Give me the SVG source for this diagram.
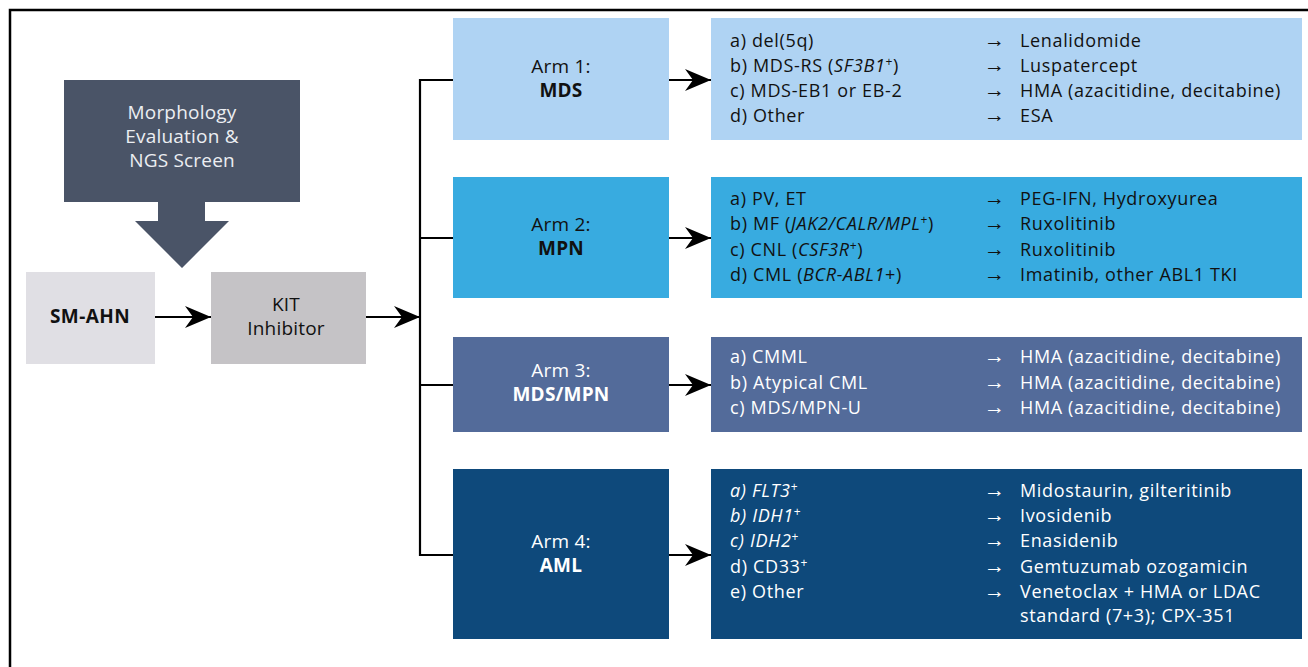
<svg xmlns="http://www.w3.org/2000/svg" width="1308" height="667" viewBox="0 0 1308 667">
<defs>
<marker id="ah" viewBox="0 0 26 22" refX="26" refY="11" markerWidth="26" markerHeight="22" markerUnits="userSpaceOnUse" orient="auto">
<path d="M0,0 L26,11 L0,22 L8,11 Z" fill="#000"/>
</marker>
</defs>
<style>
text{font-family:"Open Sans","Noto Sans","Liberation Sans",sans-serif;font-size:18px;letter-spacing:0.65px;}
.lbl{font-size:19px;letter-spacing:0.2px;}
.dk{fill:#111;}
.lt{fill:#fff;}
.b{font-weight:bold;}
.c{text-anchor:middle;}
.arr{font-family:"Liberation Serif","DejaVu Serif",serif;font-size:21px;letter-spacing:0;}
.it{font-style:italic;}
.sup{font-size:12px;}
.con{stroke:#000;stroke-width:2.2;fill:none;}
</style>
<rect width="1308" height="667" fill="#fff"/>
<path d="M10,667 V10 H1308" fill="none" stroke="#000" stroke-width="2.5"/>

<g id="connectors">
<line class="con" x1="155" y1="317" x2="211" y2="317" marker-end="url(#ah)"/>
<line class="con" x1="366" y1="317" x2="420" y2="317" marker-end="url(#ah)"/>
<path class="con" d="M453,80 H420 V555 H453 M420,238 H453 M420,385 H453"/>
<line class="con" x1="669" y1="80" x2="711" y2="80" marker-end="url(#ah)"/>
<line class="con" x1="669" y1="238" x2="711" y2="238" marker-end="url(#ah)"/>
<line class="con" x1="669" y1="385" x2="711" y2="385" marker-end="url(#ah)"/>
<line class="con" x1="669" y1="555" x2="711" y2="555" marker-end="url(#ah)"/>
</g>

<g id="screen">
<path d="M64,80 H300 V202 H205 V221 H229 L182,268 L135,221 H158 V202 H64 Z" fill="#4a5467"/>
<text class="c lbl" x="182" y="119" fill="#eceef2">Morphology</text>
<text class="c lbl" x="182" y="143" fill="#eceef2">Evaluation &amp;</text>
<text class="c lbl" x="182" y="167" fill="#eceef2">NGS Screen</text>
</g>

<g id="smahn">
<rect x="26" y="272" width="129" height="92" fill="#e0dfe4"/>
<text class="c b dk lbl" x="90" y="323" style="letter-spacing:0.4px">SM-AHN</text>
</g>

<g id="kit">
<rect x="211" y="272" width="155" height="92" fill="#c5c3c6"/>
<text class="c dk lbl" x="286" y="311">KIT</text>
<text class="c dk lbl" x="286" y="335">Inhibitor</text>
</g>

<g id="arm1">
<rect x="453" y="18" width="216" height="122" fill="#afd3f3"/>
<text class="c dk lbl" x="561" y="73">Arm 1:</text>
<text class="c dk b lbl" x="561" y="97">MDS</text>
</g>
<g id="arm1-tx">
<rect x="711" y="18" width="591" height="122" fill="#afd3f3"/>
<text class="dk" x="730" y="47">a) del(5q)</text>
<text class="dk" x="730" y="72">b) MDS-RS (<tspan class="it">SF3B1</tspan><tspan class="sup" dy="-6">+</tspan><tspan dy="6">)</tspan></text>
<text class="dk" x="730" y="97">c) MDS-EB1 or EB-2</text>
<text class="dk" x="730" y="122">d) Other</text>
<text class="dk arr" x="984" y="47">→</text>
<text class="dk arr" x="984" y="72">→</text>
<text class="dk arr" x="984" y="97">→</text>
<text class="dk arr" x="984" y="122">→</text>
<text class="dk" x="1020" y="47">Lenalidomide</text>
<text class="dk" x="1020" y="72">Luspatercept</text>
<text class="dk" x="1020" y="97">HMA (azacitidine, decitabine)</text>
<text class="dk" x="1020" y="122">ESA</text>
</g>

<g id="arm2">
<rect x="453" y="177" width="216" height="121" fill="#38abe0"/>
<text class="c dk lbl" x="561" y="231">Arm 2:</text>
<text class="c dk b lbl" x="561" y="255">MPN</text>
</g>
<g id="arm2-tx">
<rect x="711" y="177" width="591" height="121" fill="#38abe0"/>
<text class="dk" x="730" y="205">a) PV, ET</text>
<text class="dk" x="730" y="230">b) MF (<tspan class="it">JAK2/CALR/MPL</tspan><tspan class="sup" dy="-6">+</tspan><tspan dy="6">)</tspan></text>
<text class="dk" x="730" y="256">c) CNL (<tspan class="it">CSF3R</tspan><tspan class="sup" dy="-6">+</tspan><tspan dy="6">)</tspan></text>
<text class="dk" x="730" y="281">d) CML (<tspan class="it">BCR-ABL1</tspan>+)</text>
<text class="dk arr" x="984" y="205">→</text>
<text class="dk arr" x="984" y="230">→</text>
<text class="dk arr" x="984" y="256">→</text>
<text class="dk arr" x="984" y="281">→</text>
<text class="dk" x="1020" y="205">PEG-IFN, Hydroxyurea</text>
<text class="dk" x="1020" y="230">Ruxolitinib</text>
<text class="dk" x="1020" y="256">Ruxolitinib</text>
<text class="dk" x="1020" y="281">Imatinib, other ABL1 TKI</text>
</g>

<g id="arm3">
<rect x="453" y="337" width="216" height="95" fill="#536b9a"/>
<text class="c lt lbl" x="561" y="377">Arm 3:</text>
<text class="c lt b lbl" x="561" y="401">MDS/MPN</text>
</g>
<g id="arm3-tx">
<rect x="711" y="337" width="591" height="95" fill="#536b9a"/>
<text class="lt" x="730" y="363">a) CMML</text>
<text class="lt" x="730" y="389">b) Atypical CML</text>
<text class="lt" x="730" y="414">c) MDS/MPN-U</text>
<text class="lt arr" x="984" y="363">→</text>
<text class="lt arr" x="984" y="389">→</text>
<text class="lt arr" x="984" y="414">→</text>
<text class="lt" x="1020" y="363">HMA (azacitidine, decitabine)</text>
<text class="lt" x="1020" y="389">HMA (azacitidine, decitabine)</text>
<text class="lt" x="1020" y="414">HMA (azacitidine, decitabine)</text>
</g>

<g id="arm4">
<rect x="453" y="469" width="216" height="170" fill="#0e497b"/>
<text class="c lt lbl" x="561" y="548">Arm 4:</text>
<text class="c lt b lbl" x="561" y="572">AML</text>
</g>
<g id="arm4-tx">
<rect x="711" y="469" width="591" height="170" fill="#0e497b"/>
<text class="lt" x="730" y="497"><tspan class="it">a) FLT3</tspan><tspan class="sup" dy="-6">+</tspan></text>
<text class="lt" x="730" y="522"><tspan class="it">b) IDH1</tspan><tspan class="sup" dy="-6">+</tspan></text>
<text class="lt" x="730" y="547"><tspan class="it">c) IDH2</tspan><tspan class="sup" dy="-6">+</tspan></text>
<text class="lt" x="730" y="573">d) CD33<tspan class="sup" dy="-6">+</tspan></text>
<text class="lt" x="730" y="598">e) Other</text>
<text class="lt arr" x="984" y="497">→</text>
<text class="lt arr" x="984" y="522">→</text>
<text class="lt arr" x="984" y="547">→</text>
<text class="lt arr" x="984" y="573">→</text>
<text class="lt arr" x="984" y="598">→</text>
<text class="lt" x="1020" y="497">Midostaurin, gilteritinib</text>
<text class="lt" x="1020" y="522">Ivosidenib</text>
<text class="lt" x="1020" y="547">Enasidenib</text>
<text class="lt" x="1020" y="573">Gemtuzumab ozogamicin</text>
<text class="lt" x="1020" y="598">Venetoclax + HMA or LDAC</text>
<text class="lt" x="1020" y="622">standard (7+3); CPX-351</text>
</g>
</svg>
